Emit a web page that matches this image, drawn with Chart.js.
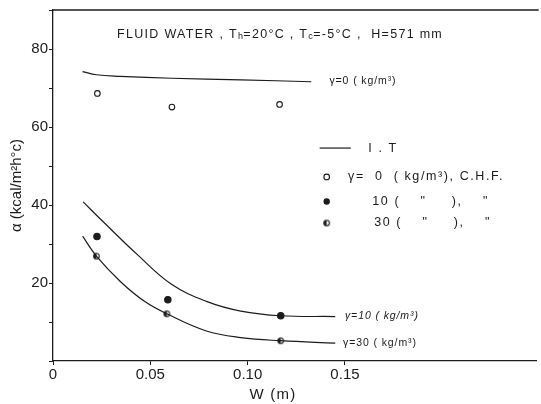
<!DOCTYPE html>
<html><head><meta charset="utf-8">
<script src="https://cdn.jsdelivr.net/npm/chart.js@4.4.1/dist/chart.umd.min.js"></script>
<style>html,body{margin:0;padding:0;background:#fff}#wrap{width:541px;height:404px}</style>
</head><body><div id="wrap"><canvas id="c" width="541" height="404"></canvas></div>
<script>
// ---- data ----
const xTickValues = [0, 0.05, 0.10, 0.15];
const xTickLabels = ['0', '0.05', '0.10', '0.15'];
const yTickValues = [0, 10, 20, 30, 40, 50, 60, 70, 80, 90];
const yTickLabels = ['', '', '20', '', '40', '', '60', '', '80', ''];

// I.T (theory) curves
const itGamma0X  = [0.0152, 0.0223, 0.0346, 0.061, 0.0965, 0.1327];
const itGamma0Y  = [74.2, 73.4, 73.0, 72.5, 72.1, 71.6];
const itGamma10X = [0.0155, 0.0258, 0.0435, 0.0611, 0.0788, 0.0965, 0.117, 0.145];
const itGamma10Y = [40.8, 35.7, 27.2, 19.6, 15.3, 12.8, 11.6, 11.4];
const itGamma30X = [0.0152, 0.0223, 0.0346, 0.047, 0.0585, 0.0788, 0.0965, 0.117, 0.145];
const itGamma30Y = [32.0, 26.9, 20.4, 15.3, 12.1, 7.7, 6.0, 5.2, 4.6];

// C.H.F. measured points
const chfGamma0X  = [0.0228, 0.0611, 0.1164];
const chfGamma0Y  = [68.6, 65.1, 65.8];
const chfGamma10X = [0.0226, 0.059, 0.117];
const chfGamma10Y = [31.9, 15.7, 11.6];
const chfGamma30X = [0.0223, 0.0585, 0.117];
const chfGamma30Y = [26.9, 12.1, 5.2];

// texts
const titleParts = [['FLUID WATER , T', 0], ['h', 1], ['=20°C , T', 0], ['c', 1], ['=-5°C ,  H=571 mm', 0]];
const curveLabels = ['γ=0 ( kg/m³)', 'γ=10 ( kg/m³)', 'γ=30 ( kg/m³)'];
const legendTexts = ['I . T', 'γ=  0  ( kg/m³), C.H.F.', '10 (    "     ),    "', '30 (    "     ),    "'];
const xTitle = 'W (m)';
const yTitle = 'α (kcal/m²h°c)';

// ---- drawing ----
const ink = '#1c1c1c';
const FONT = "'Liberation Sans', 'DejaVu Sans', sans-serif";
const pts = (xs, ys) => xs.map((v, i) => ({x: v, y: ys[i]}));

function halfMarker(){
  const c = document.createElement('canvas'); c.width = 9; c.height = 9;
  const g = c.getContext('2d');
  g.strokeStyle = ink; g.lineWidth = 1.1;
  g.beginPath(); g.arc(4.5, 4.5, 2.8, 0, Math.PI*2); g.stroke();
  g.fillStyle = ink; g.beginPath(); g.arc(4.5, 4.5, 2.8, Math.PI/2, Math.PI*1.5); g.closePath(); g.fill();
  return c;
}
const halfImg = halfMarker();

function lineDs(xs, ys){
  return {type:'line', data: pts(xs, ys), showLine:true, borderColor: ink, borderWidth: 1.2,
    pointRadius: 0, pointHoverRadius: 0, tension: 0.4, fill:false};
}
function ptDs(xs, ys, style){
  const base = {type:'scatter', data: pts(xs, ys), showLine:false, borderColor: ink, borderWidth: 1.1,
    pointRadius: 2.8, pointHoverRadius: 2.8};
  if (style === 'open') { base.pointStyle = 'circle'; base.backgroundColor = '#fff'; }
  else if (style === 'filled') { base.pointStyle = 'circle'; base.backgroundColor = ink; base.pointRadius = 3.2; }
  else { base.pointStyle = halfImg; base.backgroundColor = '#fff'; }
  return base;
}

function spaced(ctx, px){ if ('letterSpacing' in ctx) ctx.letterSpacing = px + 'px'; }

const decor = {
  id: 'decor',
  afterDraw(chart){
    const {ctx, chartArea: a, scales: {x, y}} = chart;
    const X = v => x.getPixelForValue(v), Y = v => y.getPixelForValue(v);
    ctx.save();
    ctx.strokeStyle = ink; ctx.lineWidth = 1.3;
    ctx.beginPath(); ctx.moveTo(a.left, a.top); ctx.lineTo(a.right + 2, a.top); ctx.stroke();

    ctx.fillStyle = ink; ctx.textBaseline = 'middle'; ctx.textAlign = 'left';
    // title
    let cx = 117; const ty = 35;
    for (const [t, sub] of titleParts){
      ctx.font = (sub ? '9px ' : '12.5px ') + FONT;
      spaced(ctx, sub ? 0.4 : 1.3);
      ctx.fillText(t, cx, sub ? ty + 2 : ty);
      cx += ctx.measureText(t).width;
    }
    // curve labels
    ctx.font = '10.5px ' + FONT; spaced(ctx, 0.9);
    ctx.fillText(curveLabels[0], X(0.142), Y(71.7));
    ctx.font = 'italic 10.5px ' + FONT;
    ctx.fillText(curveLabels[1], X(0.150), Y(11.4));
    ctx.font = '10.5px ' + FONT;
    ctx.fillText(curveLabels[2], X(0.149), Y(4.6));

    // legend
    ctx.lineWidth = 1.2;
    ctx.beginPath(); ctx.moveTo(X(0.137), Y(54.6)); ctx.lineTo(X(0.153), Y(54.6)); ctx.stroke();
    ctx.font = '12.5px ' + FONT; spaced(ctx, 1.6);
    ctx.fillText(legendTexts[0], X(0.162), Y(54.6));
    ctx.fillText(legendTexts[1], X(0.1516), Y(47.2));
    ctx.fillText(legendTexts[2], X(0.164), Y(40.9));
    ctx.fillText(legendTexts[3], X(0.165), Y(35.4));
    // legend markers
    ctx.lineWidth = 1.1;
    ctx.beginPath(); ctx.arc(X(0.1406), Y(47.2), 2.8, 0, Math.PI*2); ctx.fillStyle = '#fff'; ctx.fill(); ctx.stroke();
    ctx.fillStyle = ink;
    ctx.beginPath(); ctx.arc(X(0.1406), Y(40.9), 3.2, 0, Math.PI*2); ctx.fill();
    ctx.drawImage(halfImg, X(0.1406) - 4.5, Y(35.4) - 4.5);

    // x title
    ctx.font = '15px ' + FONT; spaced(ctx, 1.2); ctx.textAlign = 'center';
    ctx.fillText(xTitle, 273, 395);
    ctx.restore();
  }
};

new Chart(document.getElementById('c'), {
  type: 'scatter',
  data: { datasets: [
    lineDs(itGamma0X, itGamma0Y),
    lineDs(itGamma10X, itGamma10Y),
    lineDs(itGamma30X, itGamma30Y),
    ptDs(chfGamma0X, chfGamma0Y, 'open'),
    ptDs(chfGamma10X, chfGamma10Y, 'filled'),
    ptDs(chfGamma30X, chfGamma30Y, 'half')
  ]},
  options: {
    responsive: false, animation: false, devicePixelRatio: 1,
    layout: { padding: {top: 6, right: 1, left: 0, bottom: 0} },
    plugins: { legend: {display: false}, tooltip: {enabled: false} },
    scales: {
      x: {
        type: 'linear', min: 0, max: 0.2485,
        afterBuildTicks: s => { s.ticks = xTickValues.map(v => ({value: v})); },
        afterFit: s => { s.height = 43; },
        ticks: { callback: (v, i) => xTickLabels[i], color: ink, font: {family: FONT, size: 15}, padding: 1, maxRotation: 0, autoSkip: false },
        grid: { drawOnChartArea: false, tickLength: 4, color: ink, lineWidth: 1 },
        border: { color: ink, width: 1.3 }
      },
      y: {
        type: 'linear', min: 0, max: 90,
        afterBuildTicks: s => { s.ticks = yTickValues.map(v => ({value: v})); },
        afterFit: s => { s.width = 53; },
        ticks: { callback: (v, i) => yTickLabels[i], color: ink, font: {family: FONT, size: 15}, padding: 1, autoSkip: false },
        grid: { drawOnChartArea: false, tickLength: 4, color: ink, lineWidth: 1 },
        border: { color: ink, width: 1.3 },
        title: { display: true, text: yTitle, color: ink, font: {family: FONT, size: 15}, padding: {top: 8, bottom: 0} }
      }
    }
  },
  plugins: [decor]
});
</script></body></html>
